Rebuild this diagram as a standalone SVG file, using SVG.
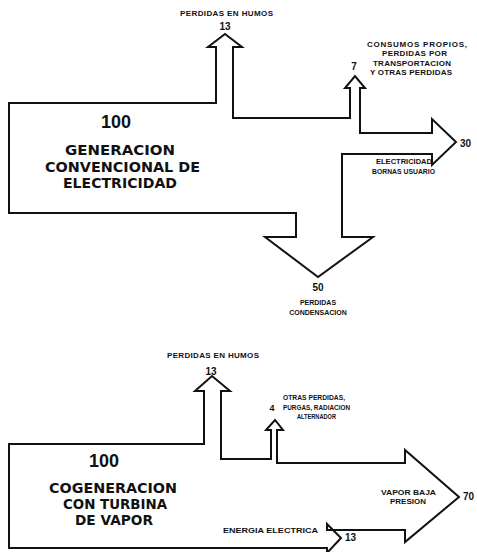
<svg xmlns="http://www.w3.org/2000/svg" width="477" height="552" viewBox="0 0 477 552">
<style>
.flow{fill:none;stroke:#111;stroke-width:2;stroke-linejoin:miter}
text{font-family:"Liberation Sans",Arial,sans-serif;font-weight:bold;fill:#111}
.s{font-size:8px}
.xs{font-size:7px}
.xxs{font-size:6.5px}
.n{font-size:10px}
.big{font-size:18px}
.t{font-size:14px;font-family:"DejaVu Sans","Liberation Sans",sans-serif}
</style>
<rect width="477" height="552" fill="#fff"/>
<g id="generacion-convencional">
<path class="flow" d="M9,103 L216,103 L216,47 L208,47 L225,34 L242,47 L233,47 L233,118 L350,118 L350,88 L345,88 L355,76 L365,88 L360,88 L360,133 L432,133 L432,119 L456,142 L432,165 L432,154 L342,154 L342,237 L373,237 L318,277 L265,237 L296,237 L296,213 L9,213 Z"/>
<text class="s" x="180" y="16" textLength="93" lengthAdjust="spacing">PERDIDAS EN HUMOS</text>
<text class="n" x="225" y="30" text-anchor="middle">13</text>
<text class="s" x="367" y="47" textLength="100" lengthAdjust="spacing">CONSUMOS PROPIOS,</text>
<text class="s" x="382" y="56" textLength="65" lengthAdjust="spacing">PERDIDAS POR</text>
<text class="s" x="373" y="65.5" textLength="78" lengthAdjust="spacing">TRANSPORTACION</text>
<text class="s" x="370" y="74.5" textLength="82" lengthAdjust="spacing">Y OTRAS PERDIDAS</text>
<text class="n" x="354" y="70" text-anchor="middle">7</text>
<text class="n" x="460" y="147">30</text>
<text class="xs" x="376" y="164" textLength="56" lengthAdjust="spacingAndGlyphs">ELECTRICIDAD</text>
<text class="xs" x="372" y="174" textLength="63" lengthAdjust="spacingAndGlyphs">BORNAS USUARIO</text>
<text class="big" x="116" y="128" text-anchor="middle">100</text>
<text class="t" x="65" y="155" textLength="110" lengthAdjust="spacingAndGlyphs">GENERACION</text>
<text class="t" x="45" y="172" textLength="155" lengthAdjust="spacingAndGlyphs">CONVENCIONAL DE</text>
<text class="t" x="63" y="188" textLength="114" lengthAdjust="spacingAndGlyphs">ELECTRICIDAD</text>
<text class="n" x="318" y="291" text-anchor="middle">50</text>
<text class="xs" x="318" y="305" text-anchor="middle">PERDIDAS</text>
<text class="xs" x="318" y="315" text-anchor="middle">CONDENSACION</text>
</g>
<g id="cogeneracion-turbina-vapor">
<path class="flow" d="M9,444 L204,444 L204,391 L195,391 L212,376 L230,391 L221,391 L221,459 L271,459 L271,430 L266,430 L275,420 L283,430 L277,430 L277,463 L405,463 L405,450 L459,497 L405,542 L405,530 L327,530 L327,524 L341,538 L327,553 L327,548 L9,548 Z"/>
<text class="s" x="167" y="358" textLength="92" lengthAdjust="spacing">PERDIDAS EN HUMOS</text>
<text class="n" x="211" y="375" text-anchor="middle">13</text>
<text class="xxs" x="283" y="400" textLength="62" lengthAdjust="spacingAndGlyphs">OTRAS PERDIDAS,</text>
<text class="n" x="272" y="411" text-anchor="middle" style="font-size:9px">4</text>
<text class="xxs" x="283" y="410" textLength="67" lengthAdjust="spacingAndGlyphs">PURGAS, RADIACION</text>
<text class="xxs" x="297" y="419" textLength="39" lengthAdjust="spacingAndGlyphs">ALTERNADOR</text>
<text class="big" x="104" y="467" text-anchor="middle">100</text>
<text class="t" x="49" y="493" textLength="128" lengthAdjust="spacingAndGlyphs">COGENERACION</text>
<text class="t" x="63" y="509" textLength="104" lengthAdjust="spacingAndGlyphs">CON TURBINA</text>
<text class="t" x="75" y="525" textLength="78" lengthAdjust="spacingAndGlyphs">DE VAPOR</text>
<text class="xs" x="381" y="495" textLength="55" lengthAdjust="spacingAndGlyphs">VAPOR BAJA</text>
<text class="xs" x="390" y="504" textLength="36" lengthAdjust="spacingAndGlyphs">PRESION</text>
<text class="n" x="463" y="500">70</text>
<text class="xs" x="223" y="533" textLength="95" lengthAdjust="spacingAndGlyphs">ENERGIA ELECTRICA</text>
<text class="n" x="345" y="541">13</text>
</g>
</svg>
